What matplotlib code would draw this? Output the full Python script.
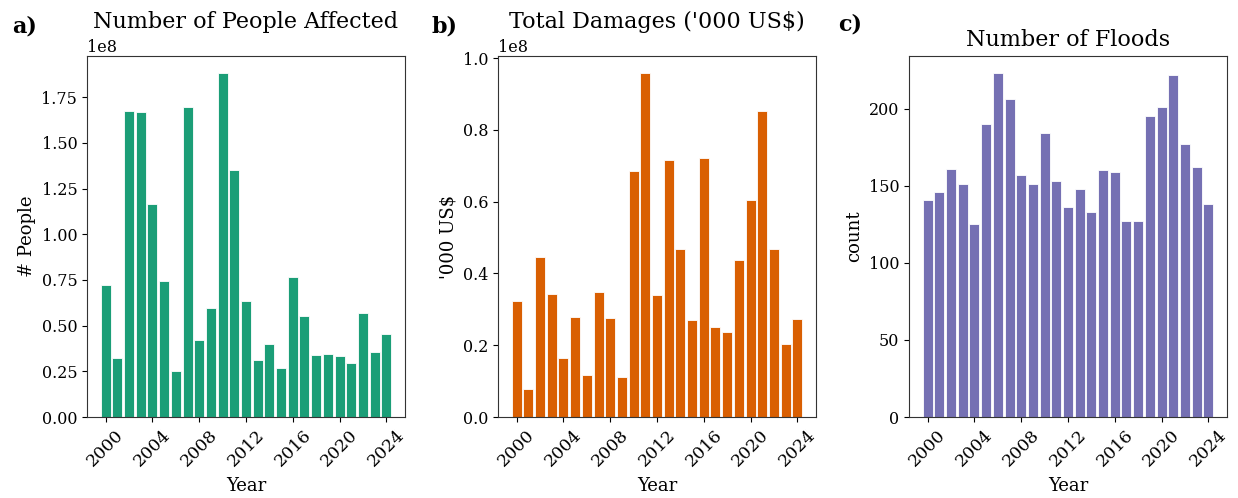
import numpy as np
import matplotlib
matplotlib.use('Agg')
import matplotlib.pyplot as plt

plt.rcParams['font.family'] = ['DejaVu Serif']

years = np.arange(2000, 2025)

# Total people affected per year
people = [0.725e8, 0.325e8, 1.675e8, 1.67e8, 1.164e8, 0.742e8, 0.254e8, 1.699e8,
          0.42e8, 0.594e8, 1.882e8, 1.35e8, 0.636e8, 0.314e8, 0.40e8, 0.269e8,
          0.767e8, 0.553e8, 0.338e8, 0.345e8, 0.336e8, 0.294e8, 0.57e8, 0.358e8,
          0.457e8]

# Total damages ('000 US$) per year
damages = [0.323e8, 0.079e8, 0.447e8, 0.342e8, 0.165e8, 0.278e8, 0.116e8, 0.349e8,
           0.276e8, 0.112e8, 0.686e8, 0.958e8, 0.340e8, 0.715e8, 0.467e8, 0.270e8,
           0.721e8, 0.251e8, 0.237e8, 0.437e8, 0.605e8, 0.853e8, 0.467e8, 0.203e8,
           0.272e8]

# Number of flood events per year
floods = [141, 146, 161, 151, 125, 190, 223, 206, 157, 151, 184, 153, 136, 148,
          133, 160, 159, 127, 127, 195, 201, 222, 177, 162, 138]

colors = ['#1b9e77', '#d95f02', '#7570b3']
titles = ['Number of People Affected', "Total Damages ('000 US$)", 'Number of Floods']
ylabels = ['# People', "'000 US$", 'count']
letters = ['a)', 'b)', 'c)']
series = [people, damages, floods]

W, H = 1238, 498
fig = plt.figure(figsize=(W / 100, H / 100), dpi=100)
lefts = [87, 498, 909]
letter_x = [12, 431, 838]
letter_base = [32, 32, 30]
# title baseline height above the axes top (px); a/b sit above the 1e8 offset
title_up = [28, 28, 10]

for i in range(3):
    ax = fig.add_axes([lefts[i] / W, 81 / H, 318 / W, 361 / H])
    ax.bar(years, series[i], width=0.86, color=colors[i], edgecolor='white', linewidth=0.6)
    ax.set_xlim(1998.4, 2025.6)
    ax.set_xticks(np.arange(2000, 2025, 4))
    ax.tick_params(axis='x', labelrotation=45, labelsize=12.5)
    ax.tick_params(axis='y', labelsize=11.5)
    ax.set_xlabel('Year', fontsize=13, labelpad=5)
    ax.set_ylabel(ylabels[i], fontsize=13)
    ax.set_title(titles[i], fontsize=16, y=1 + title_up[i] / 361, pad=0)
    ax.yaxis.get_offset_text().set_fontsize(11.5)
    for sp in ax.spines.values():
        sp.set_color('#333333')
    fig.text(letter_x[i] / W, 1 - letter_base[i] / H, letters[i], fontsize=16,
             fontweight='bold', va='baseline', ha='left')

fig.savefig('out.png', dpi=100)
